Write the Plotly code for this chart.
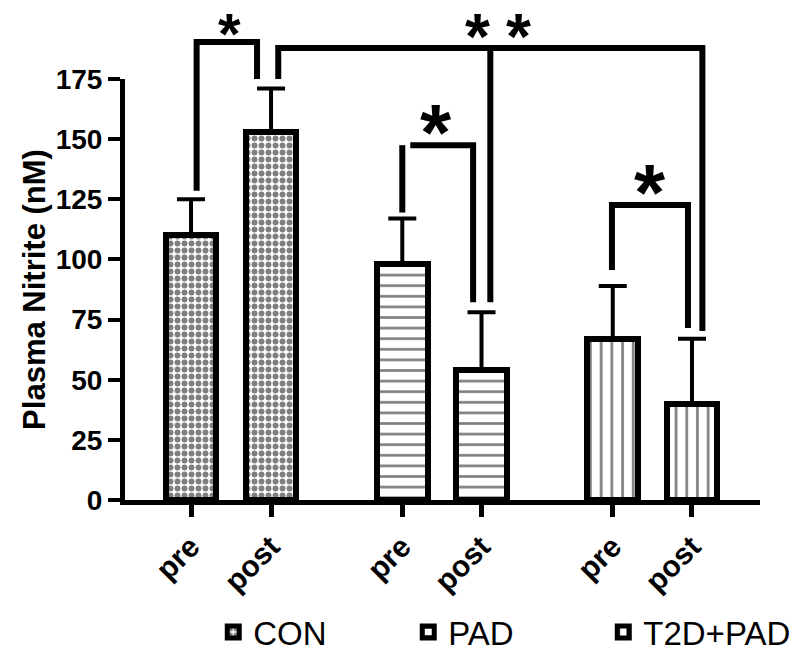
import plotly.graph_objects as go

# ---------------- data ----------------
groups = ["CON", "PAD", "T2D+PAD"]
tick_labels = ["pre", "post", "pre", "post", "pre", "post"]
con_means = [110, 153]
pad_means = [98, 54]
t2d_means = [67, 40]
con_err = [15, 18]
pad_err = [19, 24]
t2d_err = [22, 27]
y_ticks = [0, 25, 50, 75, 100, 125, 150, 175]

# layout positions (category slots on a numeric axis)
positions = [0.0, 1.0, 2.64, 3.63, 5.27, 6.26]
Y_MAX = 175

means = [con_means, pad_means, t2d_means]
errs = [con_err, pad_err, t2d_err]
patterns = [
    dict(shape=".", size=7, solidity=0.55),
    dict(shape="-", size=10.6, solidity=0.25),
    dict(shape="|", size=10.7, solidity=0.25),
]

FONT = "Liberation Sans, Arial, sans-serif"

fig = go.Figure()
for i, g in enumerate(groups):
    xs = positions[2 * i:2 * i + 2]
    fig.add_trace(go.Bar(
        x=xs, y=means[i], name=g, width=0.635,
        marker=dict(color="white",
                    line=dict(color="black", width=6),
                    pattern=dict(fgcolor="black", bgcolor="white", **patterns[i])),
        error_y=dict(type="data", symmetric=False, array=errs[i],
                     arrayminus=[0, 0], color="black", thickness=4, width=14),
    ))

tops = [m + e for mm, ee in zip(means, errs) for m, e in zip(mm, ee)]


def yp(v):
    return v / Y_MAX


def bracket(pts):
    d = "M " + " L ".join(f"{x},{yp(y)}" for x, y in pts)
    fig.add_shape(type="path", path=d, xref="x", yref="paper",
                  line=dict(color="black", width=6))


# CON pre vs post
b1_top = 190.4
bracket([(positions[0] + 0.07, tops[0] + 3.5), (positions[0] + 0.07, b1_top),
         (positions[1] - 0.175, b1_top), (positions[1] - 0.175, Y_MAX)])
# CON post vs PAD post / T2D+PAD post
b2_top = 187.9
xa, xb, xc = positions[1] + 0.09, positions[3] + 0.11, positions[5] + 0.13
bracket([(xa, Y_MAX), (xa, b2_top), (xc, b2_top), (xc, tops[5] + 3.3)])
bracket([(xb, b2_top), (xb, tops[3] + 4.2)])
# PAD pre vs post
b3_top = 147.5
bracket([(positions[2], tops[2] + 2.5), (positions[2], b3_top)])
bracket([(positions[2] + 0.1, b3_top), (positions[3] - 0.105, b3_top),
         (positions[3] - 0.105, tops[3] + 4.2)])
# T2D+PAD pre vs post
b4_top = 122.6
bracket([(positions[4] - 0.01, tops[4] + 6.6), (positions[4] - 0.01, b4_top),
         (positions[5] - 0.05, b4_top), (positions[5] - 0.05, tops[5] + 4.5)])

# (text, x, bracket y, font size, pixel shift of text box bottom relative to bracket)
stars = [
    ("*", 0.475, b1_top, 58, -26),
    ("*<span style='font-size:58px'> </span>*", 3.83, b2_top, 64, -27),
    ("*", 3.06, b3_top, 80, -34),
    ("*", 5.73, b4_top, 80, -34),
]
for txt, x, y, sz, shift in stars:
    fig.add_annotation(x=x, y=yp(y), xref="x", yref="paper", text=txt,
                       showarrow=False, yanchor="bottom", yshift=shift,
                       font=dict(family=FONT, size=sz, color="black", weight="bold"))

fig.update_layout(
    width=800, height=654,
    margin=dict(l=125, r=40, t=79, b=154, pad=0, autoexpand=False),
    plot_bgcolor="white", paper_bgcolor="white",
    bargap=0,
    showlegend=True,
    legend=dict(orientation="h", x=0.139, xanchor="left", y=-0.247, yanchor="top",
                font=dict(family=FONT, size=33, color="black"),
                entrywidth=150, entrywidthmode="pixels", traceorder="normal"),
    font=dict(family=FONT, color="black"),
)
fig.update_xaxes(
    range=[-0.825, 7.11], tickvals=positions, ticktext=tick_labels,
    tickangle=-45, ticks="outside", ticklen=12, tickwidth=5, tickcolor="black",
    showline=True, linewidth=5, linecolor="black", showgrid=False, zeroline=False,
    automargin=False,
    tickfont=dict(family=FONT, size=30, color="black", weight="bold"),
)
fig.update_yaxes(
    range=[0, Y_MAX], tickvals=y_ticks, ticks="outside", ticklen=12, tickwidth=4,
    tickcolor="black", showline=True, linewidth=5, linecolor="black",
    showgrid=False, zeroline=False, automargin=False,
    tickfont=dict(family=FONT, size=28, color="black", weight="bold"),
    title=dict(text="Plasma Nitrite (nM)", standoff=2,
               font=dict(family=FONT, size=31, color="black", weight="bold")),
)

fig.write_html("out.html", config={"displayModeBar": False},
               post_script="document.body.style.margin='0';document.body.style.overflow='hidden';")
